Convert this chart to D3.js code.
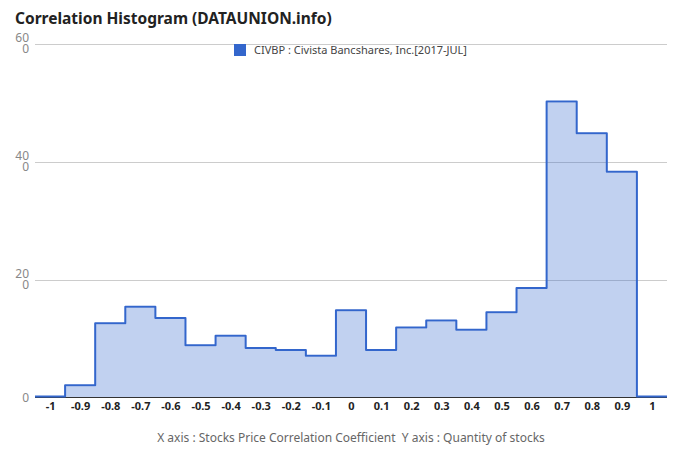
<!DOCTYPE html>
<html><head><meta charset="utf-8">
<script src="https://cdn.jsdelivr.net/npm/d3@7"></script>
<style>body{margin:0;background:#fff;} svg{display:block;}</style>
</head><body>
<script>
const title = "Correlation Histogram (DATAUNION.info)";
const seriesName = "CIVBP : Civista Bancshares, Inc.[2017-JUL]";
const axisTitle = "X axis : Stocks Price Correlation Coefficient  Y axis : Quantity of stocks";
const categories = [-1,-0.9,-0.8,-0.7,-0.6,-0.5,-0.4,-0.3,-0.2,-0.1,0,0.1,0.2,0.3,0.4,0.5,0.6,0.7,0.8,0.9,1];
const values = [0,19,124,152,133,87,103,82,79,69,146,79,117,129,113,143,184,500,446,381,0];
const xTickLabels = ["-1","-0.9","-0.8","-0.7","-0.6","-0.5","-0.4","-0.3","-0.2","-0.1","0","0.1","0.2","0.3","0.4","0.5","0.6","0.7","0.8","0.9","1"];
const yTicks = [0,200,400,600];
const yTickLabels = ["0","200","400","600"];

const W=680,H=462;
const svg=d3.select("body").append("svg").attr("width",W).attr("height",H);
const font="'Noto Sans', 'Open Sans', sans-serif";
const x=d3.scaleLinear().domain([-1.05,1.05]).range([35,667]);
const y=d3.scaleLinear().domain([0,600]).range([397.5,43.5]);

svg.append("text").attr("x",15).attr("y",24).text(title)
  .attr("font-family",font).attr("font-size",15.5).attr("font-weight","bold").attr("fill","#222");

// gridlines
svg.append("g").selectAll("line").data(yTicks.filter(d=>d>0)).join("line")
  .attr("x1",35).attr("x2",667).attr("y1",d=>Math.round(y(d))+0.5).attr("y2",d=>Math.round(y(d))+0.5)
  .attr("stroke","#cccccc").attr("stroke-width",1);

// y labels (wrapped like the reference)
const yl=svg.append("g").attr("font-family",font).attr("font-size",12).attr("fill","#888");
yTicks.forEach((t,i)=>{
  const lab=yTickLabels[i], gy=y(t);
  if(lab.length>2){
    const tx=yl.append("text").attr("x",29).attr("y",gy-2).attr("text-anchor","end");
    tx.append("tspan").attr("x",29).text(lab.slice(0,2));
    tx.append("tspan").attr("x",29).attr("dy",11.5).text(lab.slice(2));
  } else {
    yl.append("text").attr("x",29).attr("y",gy+4).attr("text-anchor","end").text(lab);
  }
});

// step data: bin edges
const pts=categories.map((c,i)=>[c-0.05,values[i]]);
pts.push([categories[categories.length-1]+0.05,values[values.length-1]]);
const area=d3.area().curve(d3.curveStepAfter).x(d=>x(d[0])).y0(y(0)).y1(d=>y(d[1]));
const line=d3.line().curve(d3.curveStepAfter).x(d=>x(d[0])).y(d=>y(d[1])-1);
svg.append("path").datum(pts).attr("d",area).attr("fill","#3366cc").attr("fill-opacity",0.3);

// baseline
svg.append("line").attr("x1",35).attr("x2",667).attr("y1",397.5).attr("y2",397.5).attr("stroke","#333").attr("stroke-width",1);

svg.append("path").datum(pts).attr("d",line).attr("fill","none").attr("stroke","#3366cc")
  .attr("stroke-width",2).attr("stroke-linejoin","round");

// x labels
const xAxis=d3.axisBottom(x).tickValues(categories).tickFormat((d,i)=>xTickLabels[i]).tickSize(0).tickPadding(0);
const gx=svg.append("g").attr("transform","translate(0,402)").call(xAxis);
gx.select(".domain").remove();
gx.selectAll("text").attr("font-family",font).attr("font-size",11).attr("font-weight","bold").attr("fill","#222").attr("dy","0.75em");

// legend
svg.append("rect").attr("x",234).attr("y",44).attr("width",12).attr("height",12).attr("fill","#3366cc");
svg.append("text").attr("x",254).attr("y",54).text(seriesName).attr("font-family",font).attr("font-size",11).attr("fill","#444");

svg.append("text").attr("x",351).attr("y",442).attr("text-anchor","middle").style("white-space","pre").text(axisTitle)
  .attr("font-family",font).attr("font-size",12).attr("fill","#666");
</script>
</body></html>
